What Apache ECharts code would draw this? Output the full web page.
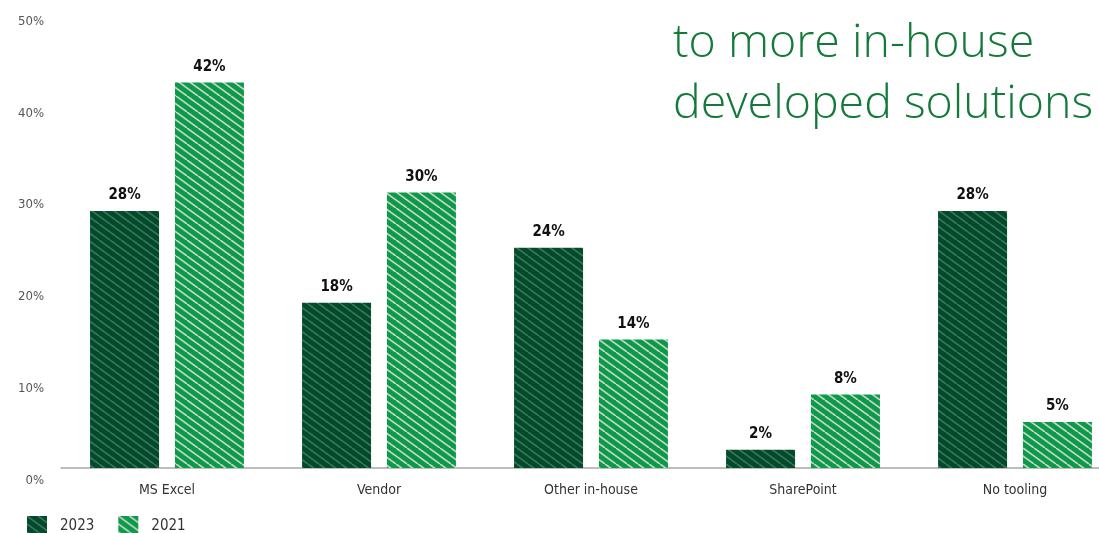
<!DOCTYPE html>
<html>
<head>
<meta charset="utf-8">
<script src="https://cdn.jsdelivr.net/npm/echarts@6/dist/echarts.min.js"></script>
<style>
  html, body { margin: 0; padding: 0; background: #ffffff; overflow: hidden; }
  #chart { width: 1122px; height: 533px; }
</style>
</head>
<body>
<div id="chart"></div>
<script>
// Tooling used, share of respondents (%)
const categories = ['MS Excel', 'Vendor', 'Other in-house', 'SharePoint', 'No tooling'];
const values2023 = [28, 18, 24, 2, 28];
const values2021 = [42, 30, 14, 8, 5];
const seriesNames = ['2023', '2021'];
const yTicks = [0, 10, 20, 30, 40, 50];

const condensed = "'DejaVu Sans Condensed', 'DejaVu Sans', sans-serif";

// Diagonal hatch fill: base colour with thin light stripes running top-left to bottom-right
function hatch(base, stripe, width) {
  const w = 22, h = 16;
  const c = document.createElement('canvas');
  c.width = w; c.height = h;
  const ctx = c.getContext('2d');
  ctx.fillStyle = base;
  ctx.fillRect(0, 0, w, h);
  ctx.strokeStyle = stripe;
  ctx.lineWidth = width;
  for (let dx = -22; dx <= 22; dx += 11) {
    ctx.beginPath();
    ctx.moveTo(dx, 0);
    ctx.lineTo(dx + w, h);
    ctx.stroke();
  }
  return { image: c, repeat: 'repeat' };
}

const fill2023 = hatch('#024a2b', '#3a7658', 1.7);
const fill2021 = hatch('#0a9a48', '#c9d3c9', 1.7);

const chart = echarts.init(document.getElementById('chart'));

function barSeries(name, data, fill) {
  return {
    name: name,
    type: 'bar',
    data: data,
    barWidth: 69,
    barGap: '23%',
    itemStyle: { color: fill },
    label: {
      show: true,
      position: 'top',
      distance: 8,
      formatter: '{c}%',
      color: '#111',
      fontFamily: condensed,
      fontWeight: 'bold',
      fontSize: 15
    }
  };
}

chart.setOption({
  animation: false,
  title: {
    text: 'to more in-house\ndeveloped solutions',
    left: 668,
    top: 8,
    textStyle: {
      fontFamily: "'Open Sans', sans-serif",
      fontWeight: 300,
      fontSize: 46.5,
      lineHeight: 61,
      color: '#137a3a'
    }
  },
  legend: {
    left: 27,
    top: 516,
    padding: 0,
    itemWidth: 20,
    itemHeight: 20,
    itemGap: 24,
    icon: 'rect',
    textStyle: { fontFamily: condensed, fontSize: 15, color: '#333', padding: [0, 0, 0, 8] },
    data: seriesNames
  },
  grid: { left: 61, width: 1060, top: 9, bottom: 65 },
  xAxis: {
    type: 'category',
    data: categories,
    axisLine: { lineStyle: { color: '#a8a8a8', width: 1.5 } },
    axisTick: { show: false },
    axisLabel: { margin: 15, fontFamily: condensed, fontSize: 14, color: '#333' }
  },
  yAxis: {
    type: 'value',
    min: yTicks[0],
    max: yTicks[yTicks.length - 1],
    interval: 10,
    splitLine: { show: false },
    axisLine: { show: false },
    axisTick: { show: false },
    axisLabel: {
      margin: 17,
      verticalAlign: 'top',
      padding: [6, 0, 0, 0],
      formatter: '{value}%',
      fontFamily: condensed,
      fontSize: 13,
      color: '#555'
    }
  },
  series: [
    barSeries(seriesNames[0], values2023, fill2023),
    barSeries(seriesNames[1], values2021, fill2021)
  ]
});
</script>
</body>
</html>
